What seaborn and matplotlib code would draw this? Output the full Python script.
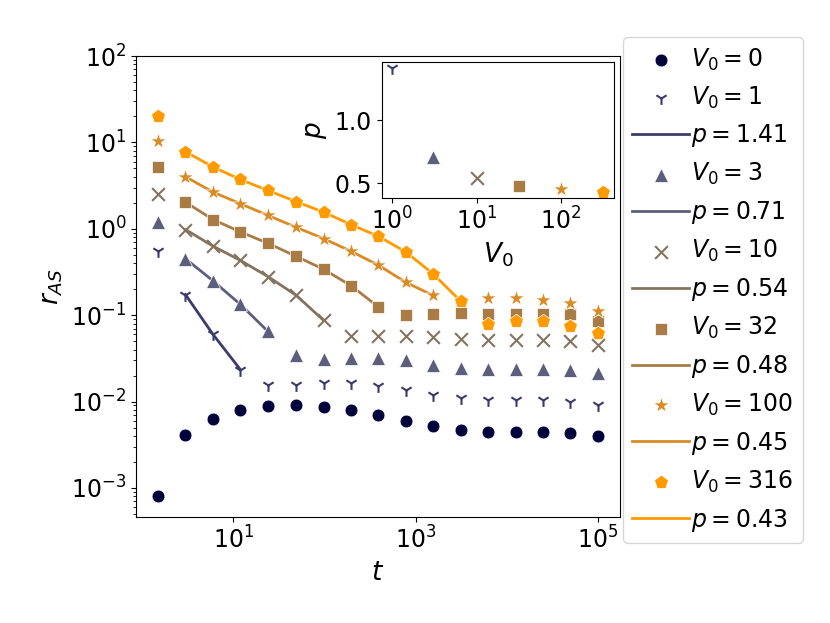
import numpy as np
import matplotlib
matplotlib.use("Agg")
import matplotlib.pyplot as plt
import matplotlib.ticker as mticker
import seaborn as sns

# time points (log spaced, factor 2)
t = [1.5, 3, 6, 12, 24, 49, 98, 195, 390, 780, 1560, 3125, 6250, 12500, 25000, 50000, 100000]

r_v0 = [8.0e-4, 4.1e-3, 6.3e-3, 8.0e-3, 8.9e-3, 9.1e-3, 8.7e-3, 7.9e-3, 7.0e-3,
        5.9e-3, 5.2e-3, 4.65e-3, 4.45e-3, 4.4e-3, 4.4e-3, 4.3e-3, 3.95e-3]
r_v1 = [0.55, 0.173, 0.060, 0.0234, 0.0157, 0.0154, 0.0164, 0.0164, 0.0152,
        0.0137, 0.0120, 0.0110, 0.0105, 0.0105, 0.0105, 0.0100, 0.0090]
r_v3 = [1.19, 0.45, 0.25, 0.133, 0.065, 0.035, 0.031, 0.032, 0.032,
        0.030, 0.0268, 0.0245, 0.0239, 0.0239, 0.0239, 0.023, 0.0214]
r_v10 = [2.55, 0.98, 0.63, 0.43, 0.28, 0.170, 0.087, 0.058, 0.057,
         0.058, 0.056, 0.053, 0.052, 0.052, 0.052, 0.050, 0.045]
r_v32 = [5.17, 2.03, 1.28, 0.92, 0.68, 0.48, 0.34, 0.22, 0.125,
         0.100, 0.104, 0.107, 0.104, 0.104, 0.104, 0.102, 0.085]
r_v100 = [10.4, 4.0, 2.66, 1.95, 1.43, 1.04, 0.77, 0.55, 0.38,
          0.24, 0.169, 0.15, 0.156, 0.156, 0.149, 0.139, 0.111]
r_v316 = [20.4, 7.8, 5.2, 3.72, 2.78, 2.06, 1.56, 1.12, 0.82,
          0.54, 0.30, 0.145, 0.078, 0.085, 0.085, 0.074, 0.062]

V0 = [0, 1, 3, 10, 32, 100, 316]
p_fit = [1.41, 0.71, 0.54, 0.48, 0.45, 0.43]
fit_end = [3, 4, 6, 8, 10, 11]   # last index of the fitted range (starts at 1)

colors = ['#03033b', '#3b3c6b', '#5d5e7b', '#84745f', '#a97c45', '#d98b26', '#ff9b00']
markers = ['o', '1', '^', 'x', 's', '*', 'p']
msize = [85, 85, 100, 85, 85, 140, 110]

series = [r_v0, r_v1, r_v3, r_v10, r_v32, r_v100, r_v316]


def marker_kw(i):
    kw = dict(s=msize[i])
    if markers[i] in ('x', '1'):
        kw['linewidth'] = 1.5
    else:
        kw['edgecolor'] = 'w'
        kw['linewidth'] = 0.5
    return kw


fig = plt.figure(figsize=(8.3, 6.23), dpi=100)
ax = fig.add_axes([0.1639, 0.1701, 0.583, 0.740])

for i, (v, r) in enumerate(zip(V0, series)):
    sns.scatterplot(x=t, y=r, marker=markers[i], color=colors[i], ax=ax,
                    label=f'$V_0 = {v}$', zorder=3, **marker_kw(i))
    if i > 0:
        e = fit_end[i - 1]
        sns.lineplot(x=t[1:e + 1], y=r[1:e + 1], color=colors[i], lw=2, ax=ax,
                     label=f'$p = {p_fit[i - 1]}$', zorder=2)

ax.set_xscale('log')
ax.set_yscale('log')
ax.set_ylim(4.6e-4, 1e2)
ax.set_xticks([1e1, 1e3, 1e5])
ax.xaxis.set_minor_locator(mticker.NullLocator())
ax.tick_params(labelsize=17)
ax.set_xlabel('$t$', fontsize=19)
ax.set_ylabel('$r_{AS}$', fontsize=19)

ax.legend(loc='upper left', bbox_to_anchor=(623 / 830, 1 - 37 / 623),
          bbox_transform=fig.transFigure, borderaxespad=0, fontsize=17,
          handlelength=2.4, handletextpad=0.1, labelspacing=0.5)

# inset: exponent p vs V0
ins = fig.add_axes([0.460, 0.682, 0.2795, 0.218])
for i in range(1, len(V0)):
    sns.scatterplot(x=[V0[i]], y=[p_fit[i - 1]], marker=markers[i], color=colors[i],
                    ax=ins, **marker_kw(i))
ins.set_xscale('log')
ins.set_xticks([1, 10, 100])
ins.xaxis.set_minor_locator(mticker.NullLocator())
ins.set_yticks([0.5, 1.0])
ins.tick_params(labelsize=17)
ins.set_xlabel('$V_0$', fontsize=19)
ins.set_ylabel('$p$', fontsize=19)

fig.savefig('out.png', dpi=100)
